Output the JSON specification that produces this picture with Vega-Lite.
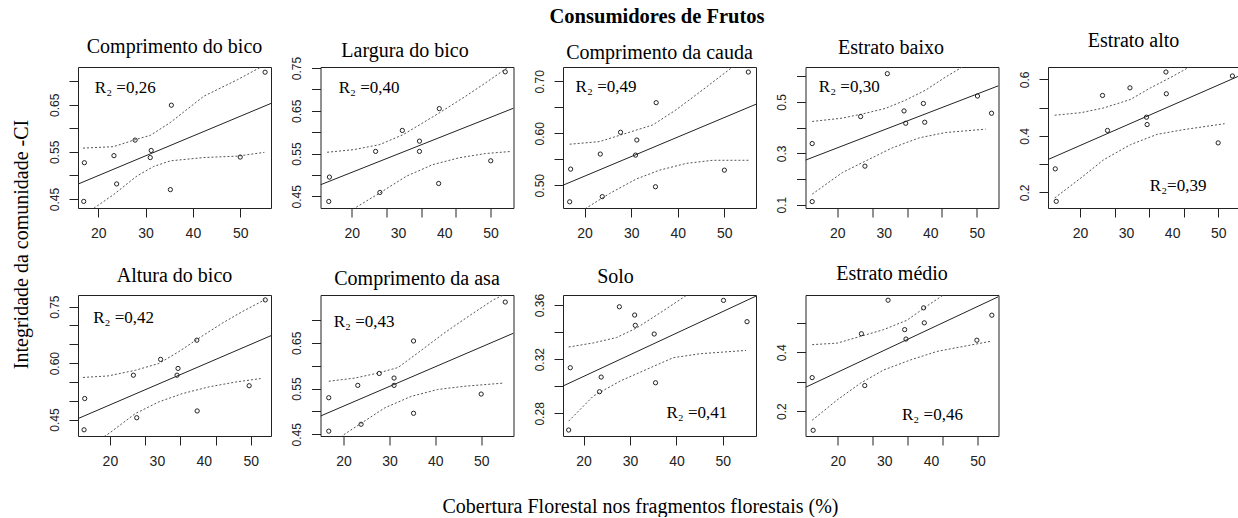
{
"$schema":"https://vega.github.io/schema/vega-lite/v6.json",
"autosize":{"type":"pad"},
"padding":{"left":10,"top":7,"right":0,"bottom":0},
"background":"white",
"title":{"text":"Consumidores de Frutos","font":"Liberation Serif","fontSize":20.5,"fontWeight":"bold","color":"#000","anchor":"middle","dx":31,"offset":2.3},
"config":{
 "view":{"stroke":"#222","strokeWidth":1},
 "axis":{"domain":false,"grid":false,"tickColor":"#222","labelColor":"#222","labelFont":"Liberation Sans","labelFlush":false,"labelOverlap":false,"titleFont":"Liberation Serif","titleFontWeight":"normal","titleColor":"#000"},
 "axisX":{"tickSize":9,"labelPadding":9,"labelFontSize":14},
 "axisY":{"tickSize":9,"labelPadding":11,"labelFontSize":12,"labelAngle":270,"labelAlign":"center","labelBaseline":"alphabetic"},
 "title":{"font":"Liberation Serif","fontSize":20,"fontWeight":"normal","color":"#000","offset":10}
},
"datasets":{
 "p1":[
  {"k":"pt","x":16.95,"y":0.445},{"k":"pt","x":17.09,"y":0.527},{"k":"pt","x":23.33,"y":0.542},{"k":"pt","x":23.9,"y":0.482},{"k":"pt","x":27.8,"y":0.575},{"k":"pt","x":31.0,"y":0.538},{"k":"pt","x":31.2,"y":0.553},{"k":"pt","x":35.25,"y":0.47},{"k":"pt","x":35.46,"y":0.649},{"k":"pt","x":50.0,"y":0.539},{"k":"pt","x":55.25,"y":0.719},
  {"k":"fit","x":15.74,"y":0.4817},{"k":"fit","x":56.5,"y":0.6528},
  {"k":"up","x":16.8,"y":0.558},{"k":"up","x":23.2,"y":0.561},{"k":"up","x":28.2,"y":0.577},{"k":"up","x":31,"y":0.585},{"k":"up","x":35.2,"y":0.612},{"k":"up","x":42.3,"y":0.668},{"k":"up","x":49.4,"y":0.703},{"k":"up","x":54.4,"y":0.73},{"k":"up","x":55.25,"y":0.736},
  {"k":"lo","x":17,"y":0.416},{"k":"lo","x":19.3,"y":0.432},{"k":"lo","x":23.2,"y":0.459},{"k":"lo","x":28.2,"y":0.499},{"k":"lo","x":31.7,"y":0.519},{"k":"lo","x":35.25,"y":0.531},{"k":"lo","x":42.3,"y":0.538},{"k":"lo","x":49.4,"y":0.541},{"k":"lo","x":55.1,"y":0.549},
  {"k":"r2","x":19.3,"y":0.686,"t":"R₂ =0,26"}
 ],
 "p2":[
  {"k":"pt","x":15.0,"y":0.438},{"k":"pt","x":15.14,"y":0.495},{"k":"pt","x":25.14,"y":0.555},{"k":"pt","x":26.07,"y":0.459},{"k":"pt","x":30.93,"y":0.604},{"k":"pt","x":34.64,"y":0.579},{"k":"pt","x":34.64,"y":0.555},{"k":"pt","x":38.79,"y":0.48},{"k":"pt","x":38.93,"y":0.655},{"k":"pt","x":50.07,"y":0.533},{"k":"pt","x":53.21,"y":0.741},
  {"k":"fit","x":13.21,"y":0.477},{"k":"fit","x":55.0,"y":0.656},
  {"k":"up","x":14.64,"y":0.553},{"k":"up","x":20.36,"y":0.559},{"k":"up","x":26.07,"y":0.571},{"k":"up","x":31.07,"y":0.594},{"k":"up","x":34.64,"y":0.617},{"k":"up","x":38.93,"y":0.645},{"k":"up","x":44.64,"y":0.684},{"k":"up","x":48.93,"y":0.715},{"k":"up","x":53.57,"y":0.75},
  {"k":"lo","x":15.0,"y":0.386},{"k":"lo","x":20.7,"y":0.423},{"k":"lo","x":26.07,"y":0.458},{"k":"lo","x":31.8,"y":0.497},{"k":"lo","x":37.5,"y":0.524},{"k":"lo","x":43.2,"y":0.54},{"k":"lo","x":48.9,"y":0.55},{"k":"lo","x":54.6,"y":0.555},
  {"k":"r2","x":17.14,"y":0.703,"t":"R₂  =0,40"}
 ],
 "p3":[
  {"k":"pt","x":16.79,"y":0.468},{"k":"pt","x":17.0,"y":0.531},{"k":"pt","x":23.36,"y":0.56},{"k":"pt","x":23.79,"y":0.478},{"k":"pt","x":27.71,"y":0.602},{"k":"pt","x":30.93,"y":0.558},{"k":"pt","x":31.21,"y":0.587},{"k":"pt","x":35.21,"y":0.497},{"k":"pt","x":35.36,"y":0.659},{"k":"pt","x":50.0,"y":0.529},{"k":"pt","x":55.14,"y":0.718},
  {"k":"fit","x":15.36,"y":0.5},{"k":"fit","x":56.79,"y":0.656},
  {"k":"up","x":16.79,"y":0.579},{"k":"up","x":23.2,"y":0.584},{"k":"up","x":28.9,"y":0.6},{"k":"up","x":34.6,"y":0.616},{"k":"up","x":39.6,"y":0.645},{"k":"up","x":45.4,"y":0.684},{"k":"up","x":51.8,"y":0.728},{"k":"up","x":55.14,"y":0.75},
  {"k":"lo","x":16.8,"y":0.43},{"k":"lo","x":20.36,"y":0.456},{"k":"lo","x":25.36,"y":0.484},{"k":"lo","x":31.1,"y":0.512},{"k":"lo","x":36.1,"y":0.529},{"k":"lo","x":41.8,"y":0.542},{"k":"lo","x":47.5,"y":0.548},{"k":"lo","x":55.36,"y":0.548},
  {"k":"r2","x":18.07,"y":0.689,"t":"R₂ =0,49"}
 ],
 "p4":[
  {"k":"pt","x":14.62,"y":0.112},{"k":"pt","x":14.62,"y":0.338},{"k":"pt","x":25.03,"y":0.443},{"k":"pt","x":25.96,"y":0.25},{"k":"pt","x":30.77,"y":0.61},{"k":"pt","x":34.36,"y":0.465},{"k":"pt","x":34.72,"y":0.417},{"k":"pt","x":38.52,"y":0.494},{"k":"pt","x":38.81,"y":0.421},{"k":"pt","x":50.15,"y":0.523},{"k":"pt","x":53.17,"y":0.456},
  {"k":"fit","x":13.18,"y":0.2735},{"k":"fit","x":54.67,"y":0.563},
  {"k":"up","x":14.62,"y":0.424},{"k":"up","x":21.1,"y":0.437},{"k":"up","x":26.1,"y":0.456},{"k":"up","x":30.4,"y":0.475},{"k":"up","x":34.7,"y":0.507},{"k":"up","x":39.0,"y":0.546},{"k":"up","x":43.3,"y":0.597},{"k":"up","x":46.9,"y":0.636},{"k":"up","x":50,"y":0.67},
  {"k":"lo","x":14.62,"y":0.141},{"k":"lo","x":21.1,"y":0.225},{"k":"lo","x":26.1,"y":0.27},{"k":"lo","x":31.8,"y":0.321},{"k":"lo","x":37.6,"y":0.36},{"k":"lo","x":43.3,"y":0.381},{"k":"lo","x":51.9,"y":0.394},
  {"k":"r2","x":16.05,"y":0.559,"t":"R₂  =0,30"}
 ],
 "p5":[
  {"k":"pt","x":14.62,"y":0.283},{"k":"pt","x":14.83,"y":0.168},{"k":"pt","x":24.88,"y":0.543},{"k":"pt","x":25.96,"y":0.419},{"k":"pt","x":30.84,"y":0.57},{"k":"pt","x":34.43,"y":0.466},{"k":"pt","x":34.57,"y":0.44},{"k":"pt","x":38.66,"y":0.626},{"k":"pt","x":38.74,"y":0.549},{"k":"pt","x":50.0,"y":0.375},{"k":"pt","x":53.09,"y":0.612},
  {"k":"fit","x":13.04,"y":0.316},{"k":"fit","x":54.96,"y":0.615},
  {"k":"up","x":14.5,"y":0.473},{"k":"up","x":20.2,"y":0.482},{"k":"up","x":25.2,"y":0.499},{"k":"up","x":30.98,"y":0.529},{"k":"up","x":35.3,"y":0.57},{"k":"up","x":39.6,"y":0.606},{"k":"up","x":42.8,"y":0.635},{"k":"up","x":45,"y":0.66},
  {"k":"lo","x":14.5,"y":0.18},{"k":"lo","x":20.2,"y":0.251},{"k":"lo","x":25.2,"y":0.316},{"k":"lo","x":30.98,"y":0.369},{"k":"lo","x":36.7,"y":0.405},{"k":"lo","x":42.5,"y":0.422},{"k":"lo","x":51.4,"y":0.443},
  {"k":"r2","x":35.15,"y":0.221,"t":"R₂=0,39"}
 ],
 "p6":[
  {"k":"pt","x":14.64,"y":0.506},{"k":"pt","x":14.5,"y":0.423},{"k":"pt","x":25.0,"y":0.568},{"k":"pt","x":25.71,"y":0.455},{"k":"pt","x":30.79,"y":0.61},{"k":"pt","x":34.5,"y":0.586},{"k":"pt","x":34.29,"y":0.568},{"k":"pt","x":38.5,"y":0.661},{"k":"pt","x":38.57,"y":0.473},{"k":"pt","x":49.64,"y":0.54},{"k":"pt","x":53.07,"y":0.768},
  {"k":"fit","x":13.21,"y":0.4527},{"k":"fit","x":54.29,"y":0.673},
  {"k":"up","x":14.29,"y":0.562},{"k":"up","x":19.6,"y":0.566},{"k":"up","x":25.4,"y":0.581},{"k":"up","x":30.4,"y":0.599},{"k":"up","x":34.6,"y":0.63},{"k":"up","x":38.9,"y":0.666},{"k":"up","x":43.9,"y":0.706},{"k":"up","x":48.2,"y":0.737},{"k":"up","x":52.9,"y":0.768},
  {"k":"lo","x":14.5,"y":0.37},{"k":"lo","x":20.0,"y":0.415},{"k":"lo","x":25.4,"y":0.466},{"k":"lo","x":30.4,"y":0.497},{"k":"lo","x":35.4,"y":0.519},{"k":"lo","x":41.1,"y":0.537},{"k":"lo","x":46.8,"y":0.55},{"k":"lo","x":52.1,"y":0.559},
  {"k":"r2","x":16.43,"y":0.719,"t":"R₂  =0,42"}
 ],
 "p7":[
  {"k":"pt","x":16.76,"y":0.457},{"k":"pt","x":16.76,"y":0.53},{"k":"pt","x":23.09,"y":0.557},{"k":"pt","x":23.81,"y":0.472},{"k":"pt","x":27.77,"y":0.583},{"k":"pt","x":31.0,"y":0.557},{"k":"pt","x":31.0,"y":0.573},{"k":"pt","x":35.25,"y":0.496},{"k":"pt","x":35.25,"y":0.654},{"k":"pt","x":50.0,"y":0.538},{"k":"pt","x":55.25,"y":0.739},
  {"k":"fit","x":14.96,"y":0.49},{"k":"fit","x":57.05,"y":0.671},
  {"k":"up","x":16.76,"y":0.566},{"k":"up","x":22.5,"y":0.573},{"k":"up","x":27.55,"y":0.584},{"k":"up","x":31.87,"y":0.596},{"k":"up","x":36.2,"y":0.628},{"k":"up","x":41.9,"y":0.671},{"k":"up","x":47.7,"y":0.711},{"k":"up","x":52.7,"y":0.744},{"k":"up","x":55.6,"y":0.758},
  {"k":"lo","x":16.8,"y":0.42},{"k":"lo","x":20,"y":0.449},{"k":"lo","x":23.96,"y":0.475},{"k":"lo","x":29,"y":0.508},{"k":"lo","x":34.75,"y":0.533},{"k":"lo","x":40.5,"y":0.548},{"k":"lo","x":46.3,"y":0.555},{"k":"lo","x":54.9,"y":0.562},
  {"k":"r2","x":17.84,"y":0.6965,"t":"R₂ =0,43"}
 ],
 "p8":[
  {"k":"pt","x":16.79,"y":0.2677},{"k":"pt","x":17.14,"y":0.3137},{"k":"pt","x":23.43,"y":0.296},{"k":"pt","x":23.79,"y":0.3068},{"k":"pt","x":27.71,"y":0.3587},{"k":"pt","x":31.14,"y":0.345},{"k":"pt","x":31.0,"y":0.3526},{"k":"pt","x":35.21,"y":0.3386},{"k":"pt","x":35.5,"y":0.3026},{"k":"pt","x":50.14,"y":0.3634},{"k":"pt","x":55.21,"y":0.3477},
  {"k":"fit","x":15.57,"y":0.3002},{"k":"fit","x":57.14,"y":0.3666},
  {"k":"up","x":16.79,"y":0.329},{"k":"up","x":22.1,"y":0.332},{"k":"up","x":27.1,"y":0.336},{"k":"up","x":31.4,"y":0.343},{"k":"up","x":36.4,"y":0.354},{"k":"up","x":42.1,"y":0.367},{"k":"up","x":45,"y":0.375},
  {"k":"lo","x":16.79,"y":0.2743},{"k":"lo","x":22.1,"y":0.2928},{"k":"lo","x":27.9,"y":0.3039},{"k":"lo","x":33.6,"y":0.3125},{"k":"lo","x":39.3,"y":0.3211},{"k":"lo","x":45,"y":0.324},{"k":"lo","x":55,"y":0.3265},
  {"k":"r2","x":37.86,"y":0.28,"t":"R₂ =0,41"}
 ],
 "p9":[
  {"k":"pt","x":14.5,"y":0.314},{"k":"pt","x":14.71,"y":0.135},{"k":"pt","x":25.07,"y":0.463},{"k":"pt","x":25.79,"y":0.287},{"k":"pt","x":30.79,"y":0.577},{"k":"pt","x":34.36,"y":0.477},{"k":"pt","x":34.64,"y":0.445},{"k":"pt","x":38.43,"y":0.551},{"k":"pt","x":38.57,"y":0.5},{"k":"pt","x":49.86,"y":0.441},{"k":"pt","x":53.07,"y":0.526},
  {"k":"fit","x":13.07,"y":0.281},{"k":"fit","x":54.5,"y":0.589},
  {"k":"up","x":14.5,"y":0.426},{"k":"up","x":19.86,"y":0.431},{"k":"up","x":24.86,"y":0.454},{"k":"up","x":29.86,"y":0.477},{"k":"up","x":34.86,"y":0.509},{"k":"up","x":39.14,"y":0.557},{"k":"up","x":42.7,"y":0.595},{"k":"up","x":45,"y":0.62},
  {"k":"lo","x":14.5,"y":0.169},{"k":"lo","x":19.86,"y":0.238},{"k":"lo","x":24.86,"y":0.295},{"k":"lo","x":29.86,"y":0.34},{"k":"lo","x":35.6,"y":0.374},{"k":"lo","x":41.3,"y":0.403},{"k":"lo","x":52.7,"y":0.437},
  {"k":"r2","x":33.79,"y":0.1863,"t":"R₂  =0,46"}
 ]
},
"columns":5,
"spacing":{"row":87,"column":49.5},
"bounds":"flush",
"concat":[
  {"width":193,"height":141,"title":{"text":"Comprimento do bico","offset":9.6},"data":{"name":"p1"},
   "encoding":{
    "x":{"field":"x","type":"quantitative","title":null,"scale":{"domain":[15.74,56.5],"nice":false,"zero":false},"axis":{"values":[20,30,40,50]}},
    "y":{"field":"y","type":"quantitative","title":"Integridade da comunidade -CI","scale":{"domain":[0.431,0.73],"nice":false,"zero":false},"axis":{"values":[0.45,0.5,0.55,0.6,0.65,0.7],"labelExpr":"indexof(['0.45','0.55','0.65'], format(datum.value,'.2f')) >= 0 ? format(datum.value,'.2f') : ''","titleX":-57,"titleY":177,"titleAngle":270,"titleAlign":"center","titleBaseline":"middle","titleFontSize":20}}},
   "layer":[
    {"transform":[{"filter":"datum.k=='up'||datum.k=='lo'"}],"mark":{"type":"line","clip":true,"color":"#555","strokeWidth":1,"strokeDash":[2,2]},"encoding":{"detail":{"field":"k"}}},
    {"transform":[{"filter":"datum.k=='fit'"}],"mark":{"type":"line","clip":true,"color":"#222","strokeWidth":1},"encoding":{}},
    {"transform":[{"filter":"datum.k=='pt'"}],"mark":{"type":"point","shape":"circle","filled":false,"size":18,"color":"#222","strokeWidth":1,"opacity":1}},
    {"transform":[{"filter":"datum.k=='r2'"}],"mark":{"type":"text","align":"left","baseline":"middle","font":"Liberation Serif","fontSize":17,"color":"#000"},"encoding":{"text":{"field":"t"}}}
   ]},
  {"width":193,"height":141,"title":{"text":"Largura do bico","dx":-12,"offset":-5},"data":{"name":"p2"},
   "encoding":{
    "x":{"field":"x","type":"quantitative","title":null,"scale":{"domain":[13.21,55.0],"nice":false,"zero":false},"axis":{"values":[20,27.5,30,35,40,42.5,50],"tickOpacity":{"condition":{"test":"datum.value==30||datum.value==40","value":0},"value":1},"labelExpr":"(datum.value==20||datum.value==30||datum.value==40||datum.value==50) ? datum.label : ''"}},
    "y":{"field":"y","type":"quantitative","title":null,"scale":{"domain":[0.4227,0.7523],"nice":false,"zero":false},"axis":{"values":[0.45,0.5,0.55,0.6,0.65,0.7,0.75],"labelExpr":"indexof(['0.45','0.55','0.65','0.75'], format(datum.value,'.2f')) >= 0 ? format(datum.value,'.2f') : ''"}}},
   "layer":[
    {"transform":[{"filter":"datum.k=='up'||datum.k=='lo'"}],"mark":{"type":"line","clip":true,"color":"#555","strokeWidth":1,"strokeDash":[2,2]},"encoding":{"detail":{"field":"k"}}},
    {"transform":[{"filter":"datum.k=='fit'"}],"mark":{"type":"line","clip":true,"color":"#222","strokeWidth":1},"encoding":{}},
    {"transform":[{"filter":"datum.k=='pt'"}],"mark":{"type":"point","shape":"circle","filled":false,"size":18,"color":"#222","strokeWidth":1,"opacity":1}},
    {"transform":[{"filter":"datum.k=='r2'"}],"mark":{"type":"text","align":"left","baseline":"middle","font":"Liberation Serif","fontSize":17,"color":"#000"},"encoding":{"text":{"field":"t"}}}
   ]},
  {"width":193,"height":141,"title":{"text":"Comprimento da cauda","offset":4.1},"data":{"name":"p3"},
   "encoding":{
    "x":{"field":"x","type":"quantitative","title":null,"scale":{"domain":[15.36,56.79],"nice":false,"zero":false},"axis":{"values":[20,30,40,50]}},
    "y":{"field":"y","type":"quantitative","title":null,"scale":{"domain":[0.4561,0.7277],"nice":false,"zero":false},"axis":{"values":[0.5,0.55,0.6,0.65,0.7],"labelExpr":"indexof(['0.50','0.60','0.70'], format(datum.value,'.2f')) >= 0 ? format(datum.value,'.2f') : ''"}}},
   "layer":[
    {"transform":[{"filter":"datum.k=='up'||datum.k=='lo'"}],"mark":{"type":"line","clip":true,"color":"#555","strokeWidth":1,"strokeDash":[2,2]},"encoding":{"detail":{"field":"k"}}},
    {"transform":[{"filter":"datum.k=='fit'"}],"mark":{"type":"line","clip":true,"color":"#222","strokeWidth":1},"encoding":{}},
    {"transform":[{"filter":"datum.k=='pt'"}],"mark":{"type":"point","shape":"circle","filled":false,"size":18,"color":"#222","strokeWidth":1,"opacity":1}},
    {"transform":[{"filter":"datum.k=='r2'"}],"mark":{"type":"text","align":"left","baseline":"middle","font":"Liberation Serif","fontSize":17,"color":"#000"},"encoding":{"text":{"field":"t"}}}
   ]},
  {"width":193,"height":141,"title":{"text":"Estrato baixo","dx":-11,"offset":8.8},"data":{"name":"p4"},
   "encoding":{
    "x":{"field":"x","type":"quantitative","title":null,"scale":{"domain":[13.18,54.67],"nice":false,"zero":false},"axis":{"values":[20,27.5,30,35,40,42.5,50],"tickOpacity":{"condition":{"test":"datum.value==30||datum.value==40","value":0},"value":1},"labelExpr":"(datum.value==20||datum.value==30||datum.value==40||datum.value==50) ? datum.label : ''"}},
    "y":{"field":"y","type":"quantitative","title":null,"scale":{"domain":[0.0871,0.636],"nice":false,"zero":false},"axis":{"values":[0.1,0.2,0.3,0.4,0.5,0.6],"labelExpr":"indexof(['0.1','0.3','0.5'], format(datum.value,'.1f')) >= 0 ? format(datum.value,'.1f') : ''"}}},
   "layer":[
    {"transform":[{"filter":"datum.k=='up'||datum.k=='lo'"}],"mark":{"type":"line","clip":true,"color":"#555","strokeWidth":1,"strokeDash":[2,2]},"encoding":{"detail":{"field":"k"}}},
    {"transform":[{"filter":"datum.k=='fit'"}],"mark":{"type":"line","clip":true,"color":"#222","strokeWidth":1},"encoding":{}},
    {"transform":[{"filter":"datum.k=='pt'"}],"mark":{"type":"point","shape":"circle","filled":false,"size":18,"color":"#222","strokeWidth":1,"opacity":1}},
    {"transform":[{"filter":"datum.k=='r2'"}],"mark":{"type":"text","align":"left","baseline":"middle","font":"Liberation Serif","fontSize":17,"color":"#000"},"encoding":{"text":{"field":"t"}}}
   ]},
  {"width":193,"height":141,"title":{"text":"Estrato alto","dx":-11,"offset":16.4},"data":{"name":"p5"},
   "encoding":{
    "x":{"field":"x","type":"quantitative","title":null,"scale":{"domain":[13.04,54.96],"nice":false,"zero":false},"axis":{"values":[20,27.5,30,35,40,42.5,50],"tickOpacity":{"condition":{"test":"datum.value==30||datum.value==40","value":0},"value":1},"labelExpr":"(datum.value==20||datum.value==30||datum.value==40||datum.value==50) ? datum.label : ''"}},
    "y":{"field":"y","type":"quantitative","title":null,"scale":{"domain":[0.1444,0.6438],"nice":false,"zero":false},"axis":{"values":[0.2,0.3,0.4,0.5,0.6],"labelExpr":"indexof(['0.2','0.4','0.6'], format(datum.value,'.1f')) >= 0 ? format(datum.value,'.1f') : ''"}}},
   "layer":[
    {"transform":[{"filter":"datum.k=='up'||datum.k=='lo'"}],"mark":{"type":"line","clip":true,"color":"#555","strokeWidth":1,"strokeDash":[2,2]},"encoding":{"detail":{"field":"k"}}},
    {"transform":[{"filter":"datum.k=='fit'"}],"mark":{"type":"line","clip":true,"color":"#222","strokeWidth":1},"encoding":{}},
    {"transform":[{"filter":"datum.k=='pt'"}],"mark":{"type":"point","shape":"circle","filled":false,"size":18,"color":"#222","strokeWidth":1,"opacity":1}},
    {"transform":[{"filter":"datum.k=='r2'"}],"mark":{"type":"text","align":"left","baseline":"middle","font":"Liberation Serif","fontSize":17,"color":"#000"},"encoding":{"text":{"field":"t"}}}
   ]},
  {"width":193,"height":141,"title":{"text":"Altura do bico","offset":8.8},"data":{"name":"p6"},
   "encoding":{
    "x":{"field":"x","type":"quantitative","title":null,"scale":{"domain":[13.21,54.29],"nice":false,"zero":false},"axis":{"values":[20,27.5,30,35,40,42.5,50],"tickOpacity":{"condition":{"test":"datum.value==30||datum.value==40","value":0},"value":1},"labelExpr":"(datum.value==20||datum.value==30||datum.value==40||datum.value==50) ? datum.label : ''"}},
    "y":{"field":"y","type":"quantitative","title":null,"scale":{"domain":[0.4065,0.781],"nice":false,"zero":false},"axis":{"values":[0.45,0.5,0.55,0.6,0.65,0.7,0.75],"labelExpr":"indexof(['0.45','0.60','0.75'], format(datum.value,'.2f')) >= 0 ? format(datum.value,'.2f') : ''"}}},
   "layer":[
    {"transform":[{"filter":"datum.k=='up'||datum.k=='lo'"}],"mark":{"type":"line","clip":true,"color":"#555","strokeWidth":1,"strokeDash":[2,2]},"encoding":{"detail":{"field":"k"}}},
    {"transform":[{"filter":"datum.k=='fit'"}],"mark":{"type":"line","clip":true,"color":"#222","strokeWidth":1},"encoding":{}},
    {"transform":[{"filter":"datum.k=='pt'"}],"mark":{"type":"point","shape":"circle","filled":false,"size":18,"color":"#222","strokeWidth":1,"opacity":1}},
    {"transform":[{"filter":"datum.k=='r2'"}],"mark":{"type":"text","align":"left","baseline":"middle","font":"Liberation Serif","fontSize":17,"color":"#000"},"encoding":{"text":{"field":"t"}}}
   ]},
  {"width":193,"height":141,"title":{"text":"Comprimento da asa","offset":6.1},"data":{"name":"p7"},
   "encoding":{
    "x":{"field":"x","type":"quantitative","title":null,"scale":{"domain":[14.96,57.05],"nice":false,"zero":false},"axis":{"values":[20,30,40,50]}},
    "y":{"field":"y","type":"quantitative","title":null,"scale":{"domain":[0.4464,0.7544],"nice":false,"zero":false},"axis":{"values":[0.45,0.5,0.55,0.6,0.65,0.7],"labelExpr":"indexof(['0.45','0.55','0.65'], format(datum.value,'.2f')) >= 0 ? format(datum.value,'.2f') : ''"}}},
   "layer":[
    {"transform":[{"filter":"datum.k=='up'||datum.k=='lo'"}],"mark":{"type":"line","clip":true,"color":"#555","strokeWidth":1,"strokeDash":[2,2]},"encoding":{"detail":{"field":"k"}}},
    {"transform":[{"filter":"datum.k=='fit'"}],"mark":{"type":"line","clip":true,"color":"#222","strokeWidth":1},"encoding":{}},
    {"transform":[{"filter":"datum.k=='pt'"}],"mark":{"type":"point","shape":"circle","filled":false,"size":18,"color":"#222","strokeWidth":1,"opacity":1}},
    {"transform":[{"filter":"datum.k=='r2'"}],"mark":{"type":"text","align":"left","baseline":"middle","font":"Liberation Serif","fontSize":17,"color":"#000"},"encoding":{"text":{"field":"t"}}}
   ]},
  {"width":193,"height":141,"title":{"text":"Solo","dx":-44,"offset":6.4},"data":{"name":"p8"},
   "encoding":{
    "x":{"field":"x","type":"quantitative","title":"Cobertura Florestal nos fragmentos florestais (%)","scale":{"domain":[15.57,57.14],"nice":false,"zero":false},"axis":{"values":[20,30,40,50],"titleX":77,"titleY":70,"titleAlign":"center","titleBaseline":"middle","titleFontSize":20}},
    "y":{"field":"y","type":"quantitative","title":null,"scale":{"domain":[0.2633,0.3674],"nice":false,"zero":false},"axis":{"values":[0.28,0.3,0.32,0.34,0.36],"labelExpr":"indexof(['0.28','0.32','0.36'], format(datum.value,'.2f')) >= 0 ? format(datum.value,'.2f') : ''"}}},
   "layer":[
    {"transform":[{"filter":"datum.k=='up'||datum.k=='lo'"}],"mark":{"type":"line","clip":true,"color":"#555","strokeWidth":1,"strokeDash":[2,2]},"encoding":{"detail":{"field":"k"}}},
    {"transform":[{"filter":"datum.k=='fit'"}],"mark":{"type":"line","clip":true,"color":"#222","strokeWidth":1},"encoding":{}},
    {"transform":[{"filter":"datum.k=='pt'"}],"mark":{"type":"point","shape":"circle","filled":false,"size":18,"color":"#222","strokeWidth":1,"opacity":1}},
    {"transform":[{"filter":"datum.k=='r2'"}],"mark":{"type":"text","align":"left","baseline":"middle","font":"Liberation Serif","fontSize":17,"color":"#000"},"encoding":{"text":{"field":"t"}}}
   ]},
  {"width":193,"height":141,"title":{"text":"Estrato médio","dx":-10,"offset":11.1},"data":{"name":"p9"},
   "encoding":{
    "x":{"field":"x","type":"quantitative","title":null,"scale":{"domain":[13.07,54.5],"nice":false,"zero":false},"axis":{"values":[20,27.5,30,35,40,42.5,50],"tickOpacity":{"condition":{"test":"datum.value==30||datum.value==40","value":0},"value":1},"labelExpr":"(datum.value==20||datum.value==30||datum.value==40||datum.value==50) ? datum.label : ''"}},
    "y":{"field":"y","type":"quantitative","title":null,"scale":{"domain":[0.1156,0.5946],"nice":false,"zero":false},"axis":{"values":[0.2,0.3,0.4,0.5],"labelExpr":"indexof(['0.2','0.4'], format(datum.value,'.1f')) >= 0 ? format(datum.value,'.1f') : ''"}}},
   "layer":[
    {"transform":[{"filter":"datum.k=='up'||datum.k=='lo'"}],"mark":{"type":"line","clip":true,"color":"#555","strokeWidth":1,"strokeDash":[2,2]},"encoding":{"detail":{"field":"k"}}},
    {"transform":[{"filter":"datum.k=='fit'"}],"mark":{"type":"line","clip":true,"color":"#222","strokeWidth":1},"encoding":{}},
    {"transform":[{"filter":"datum.k=='pt'"}],"mark":{"type":"point","shape":"circle","filled":false,"size":18,"color":"#222","strokeWidth":1,"opacity":1}},
    {"transform":[{"filter":"datum.k=='r2'"}],"mark":{"type":"text","align":"left","baseline":"middle","font":"Liberation Serif","fontSize":17,"color":"#000"},"encoding":{"text":{"field":"t"}}}
   ]}
]
}
